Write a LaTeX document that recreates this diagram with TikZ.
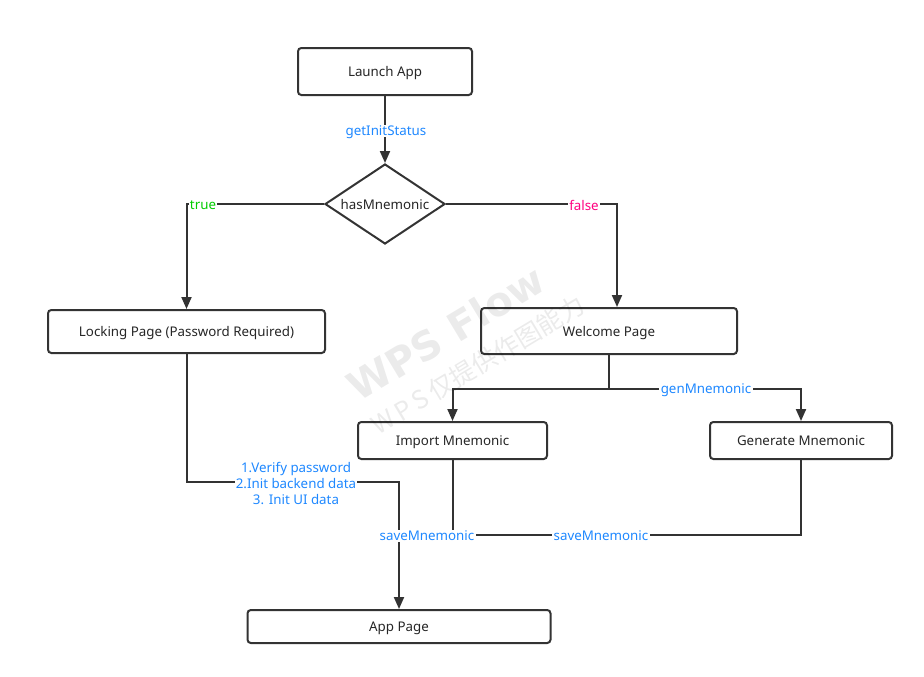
\documentclass[tikz,border=0pt]{standalone}
\usepackage{fontspec}
\setmainfont{Noto Sans}
\newfontfamily\cjkfont{Noto Sans CJK SC}
\newfontfamily\wmfont{DejaVu Sans}
\usetikzlibrary{shapes.geometric,arrows.meta}
\definecolor{lineclr}{HTML}{333333}
\definecolor{lblblue}{HTML}{1E88FF}
\definecolor{lblgreen}{HTML}{00CC00}
\definecolor{lblpink}{HTML}{FF0080}
\def\u{0.75pt}
\tikzset{
  box/.style={draw=lineclr, line width=1.5pt, rounded corners=2.5pt, fill=white,
    font=\fontsize{10}{12}\selectfont, text=black!85, inner sep=0pt, text depth=0pt},
  conn/.style={draw=lineclr, line width=1.5pt},
  arr/.style={conn, -{Triangle[length=9pt,width=7.5pt]}},
  lbl/.style={fill=white, inner sep=1pt, font=\fontsize{10}{12}\selectfont, text=lblblue, text depth=0pt},
  wm/.style={rotate=31, text=black, opacity=0.08}
}
\begin{document}
\begin{tikzpicture}[x=0.75pt,y=-0.75pt]
\useasboundingbox (0,0) rectangle (924,676);
% nodes
\node[box, minimum width=174*\u, minimum height=47*\u] (launch) at (385,71.5) {Launch App};
\node[draw=lineclr, line width=1.5pt, diamond, minimum width=120*\u, minimum height=80*\u, inner sep=0pt, fill=white] (dia) at (385,204) {};
\node[font=\fontsize{10}{12}\selectfont, text=black!85, text depth=0pt] (diat) at (dia) {hasMnemonic};
\node[box, minimum width=277*\u, minimum height=43*\u] (lock) at (186.5,331.5) {Locking Page (Password Required)};
\node[box, minimum width=256*\u, minimum height=46*\u] (wel) at (609,331) {Welcome Page};
\node[box, minimum width=189*\u, minimum height=37*\u] (imp) at (452.5,440.5) {Import Mnemonic};
\node[box, minimum width=182*\u, minimum height=37*\u] (gen) at (801,440.5) {Generate Mnemonic};
\node[box, minimum width=303*\u, minimum height=33*\u] (app) at (399,626.5) {App Page};
% junctions
\coordinate (cfalse) at (617,204);
\coordinate (w1) at (609,389);
\coordinate (j1) at (399,482);
\coordinate (j2) at (399,535);
% connectors
\draw[arr] (launch.south) -- (dia.north);
\draw[arr] (dia.west) -| (lock.north);
\draw[arr] (dia.east) -- (cfalse) -- (cfalse |- wel.north);
\draw[conn] (wel.south) -- (w1);
\draw[arr] (w1) -| (imp.north);
\draw[arr] (w1) -| (gen.north);
\draw[arr] (lock.south) |- (j1) -- (app.north);
\draw[conn] (imp.south) |- (j2);
\draw[conn] (gen.south) |- (j2);
% labels
\node[lbl] (l1) at (386,131) {getInitStatus};
\node[lbl, text=lblgreen] (l2) at (203,205) {true};
\node[lbl, text=lblpink] (l3) at (584,205) {false};
\node[lbl] (l4) at (706,389) {genMnemonic};
\node[lbl, align=center] (l5) at (296,483) {1.Verify password\\2.Init backend data\\3. Init UI data};
\node[lbl] (l6) at (427,536) {saveMnemonic};
\node[lbl] (l7) at (601,536) {saveMnemonic};
% watermark
\node[wm, font=\fontsize{30}{30}\selectfont\wmfont\bfseries] (wm1) at (446,333) {WPS Flow};
\node[wm, font=\fontsize{19}{19}\selectfont\cjkfont] (wm2) at (478,365) {W\,P\,S\,仅提供作图能力};
\end{tikzpicture}
\end{document}
